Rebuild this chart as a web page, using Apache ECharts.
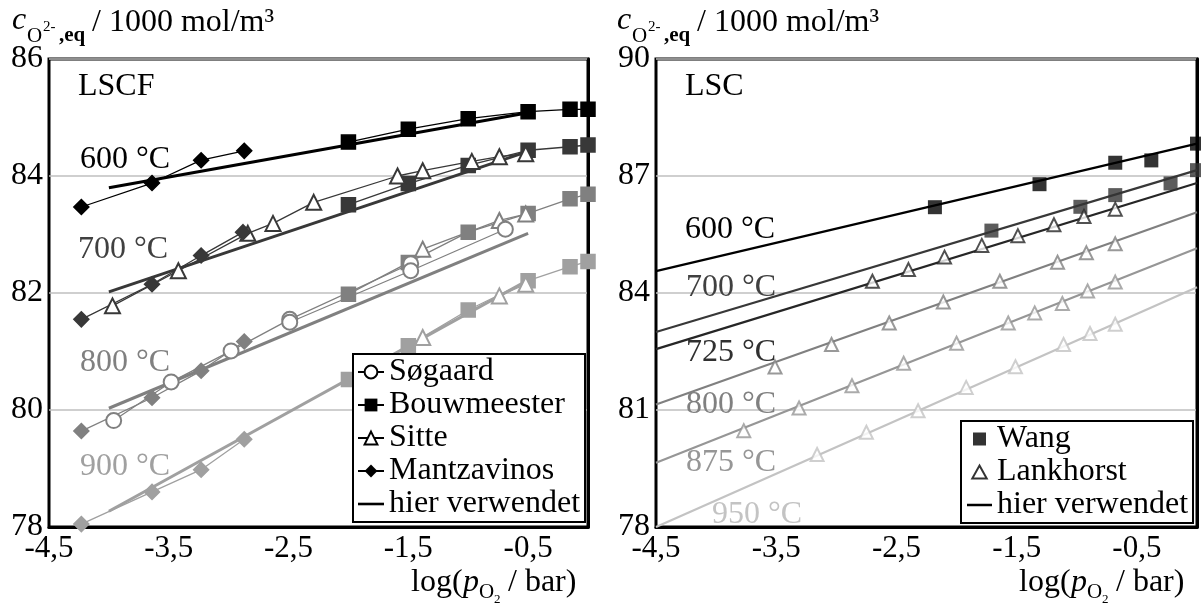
<!DOCTYPE html>
<html><head><meta charset="utf-8">
<script src="https://cdn.jsdelivr.net/npm/echarts@6/dist/echarts.min.js"></script>
<style>html,body{margin:0;padding:0;background:#fff}#c{width:1201px;height:604px}</style>
</head><body><div id="c"></div><script>
// ---------- LSCF (left) ----------
const bouw600 = [[-2,84.58],[-1.5,84.8],[-1,84.98],[-0.5,85.1],[-0.15,85.14],[0,85.14]];
const bouw700 = [[-2,83.51],[-1.5,83.87],[-1,84.18],[-0.5,84.44],[-0.15,84.5],[0,84.53]];
const bouw800 = [[-2,81.98],[-1.5,82.52],[-1,83.04],[-0.5,83.36],[-0.15,83.61],[0,83.69]];
const bouw900 = [[-2,80.52],[-1.5,81.1],[-1,81.71],[-0.5,82.21],[-0.15,82.45],[0,82.54]];
const sitte700 = [[-3.97,81.78],[-3.42,82.38],[-2.84,83.02],[-2.63,83.19],[-2.29,83.55],[-1.59,84.0],[-1.38,84.09],[-0.97,84.25],[-0.74,84.33],[-0.52,84.38]];
const sitte800 = [[-1.38,82.75],[-0.74,83.24],[-0.52,83.35]];
const sitte900 = [[-1.38,81.24],[-0.74,81.95],[-0.52,82.15]];
const mantz600 = [[-4.23,83.47],[-3.64,83.88],[-3.23,84.27],[-2.87,84.43]];
const mantz700 = [[-4.23,81.55],[-3.64,82.15],[-3.23,82.64],[-2.88,83.04]];
const mantz800 = [[-4.23,79.64],[-3.64,80.21],[-3.23,80.67],[-2.87,81.17]];
const mantz900 = [[-4.23,78.05],[-3.64,78.6],[-3.23,78.98],[-2.87,79.5]];
const sogA = [[-3.96,79.82],[-3.48,80.48],[-2.98,81.01],[-2.49,81.55],[-1.48,82.5]];
const sogB = [[-2.49,81.5],[-1.48,82.38],[-0.69,83.09]];
const fitLSCF600 = [[-4,83.8],[-0.5,85.08]];
const fitLSCF700 = [[-4,82.02],[-0.5,84.42]];
const fitLSCF800 = [[-4,80.03],[-0.5,83.02]];
const fitLSCF900 = [[-4,78.27],[-0.5,82.22]];
// ---------- LSC (right) ----------
const wang600 = [[-2.18,86.2],[-1.31,86.79],[-0.68,87.34],[-0.38,87.4],[0,87.83]];
const wang700 = [[-1.71,85.6],[-0.97,86.21],[-0.68,86.51],[-0.22,86.81],[0,87.15]];
const lank725 = [[-2.7,84.3],[-2.4,84.6],[-2.1,84.92],[-1.79,85.22],[-1.49,85.47],[-1.19,85.75],[-0.94,85.96],[-0.68,86.15]];
const lank800 = [[-3.51,82.1],[-3.04,82.68],[-2.56,83.23],[-2.11,83.77],[-1.64,84.3],[-1.16,84.79],[-0.92,85.03],[-0.68,85.26]];
const lank875 = [[-3.77,80.47],[-3.31,81.05],[-2.87,81.62],[-2.44,82.2],[-2.0,82.71],[-1.57,83.23],[-1.35,83.49],[-1.12,83.73],[-0.91,84.05],[-0.68,84.28]];
const lank950 = [[-3.16,79.86],[-2.75,80.43],[-2.32,80.98],[-1.92,81.58],[-1.51,82.11],[-1.11,82.68],[-0.89,82.96],[-0.68,83.2]];
const fitLSC600 = [[-4.5,84.56],[0,87.83]];
const fitLSC700 = [[-4.5,83.0],[0,87.15]];
const fitLSC725 = [[-4.5,82.56],[0,86.82]];
const fitLSC800 = [[-4.5,81.14],[0,86.07]];
const fitLSC875 = [[-4.5,79.65],[0,85.15]];
const fitLSC950 = [[-4.5,78.0],[0,84.15]];
// ---------- texts ----------
const legendLSCF = ['Søgaard','Bouwmeester','Sitte','Mantzavinos','hier verwendet'];
const legendLSC = ['Wang','Lankhorst','hier verwendet'];
const panelNames = ['LSCF','LSC'];
const tempsLSCF = ['600 °C','700 °C','800 °C','900 °C'];
const tempsLSC = ['600 °C','700 °C','725 °C','800 °C','875 °C','950 °C'];

const F = 'Liberation Serif';
const C = {600:'#000000',700:'#383838',725:'#262626',800:'#808080',875:'#969696',900:'#a0a0a0',950:'#c3c3c3'};

function dl(name, data, color, symbol, size, ax) {
  return {name, type:'line', data, xAxisIndex:ax, yAxisIndex:ax, symbol, symbolSize:size, showSymbol:true,
    lineStyle:{color, width:1.3}, itemStyle:{color, borderColor:color, borderWidth:1.5}, z:3, animation:false};
}
function fit(name, data, color, w, ax) {
  return {name, type:'line', data, xAxisIndex:ax, yAxisIndex:ax, symbol:'none', lineStyle:{color, width:w}, itemStyle:{color}, z:2, animation:false};
}
function sc(name, data, color, symbol, size) {
  return {name, type:'scatter', data, xAxisIndex:1, yAxisIndex:1, symbol, symbolSize:size,
    itemStyle:{color, borderColor:color, borderWidth:symbol.indexOf('empty')===0?2:0}, z:4, animation:false};
}

const series = [
  fit('f600', fitLSCF600, C[600], 3, 0), fit('f700', fitLSCF700, C[700], 3, 0),
  fit('f800', fitLSCF800, C[800], 3, 0), fit('f900', fitLSCF900, C[900], 3, 0),
  dl('b600', bouw600, C[600], 'rect', 14, 0), dl('b700', bouw700, C[700], 'rect', 14, 0),
  dl('b800', bouw800, C[800], 'rect', 14, 0), dl('b900', bouw900, C[900], 'rect', 14, 0),
  dl('s700', sitte700, C[700], 'emptyTriangle', 15, 0), dl('s800', sitte800, C[800], 'emptyTriangle', 15, 0),
  dl('s900', sitte900, C[900], 'emptyTriangle', 15, 0),
  dl('m600', mantz600, C[600], 'diamond', 15, 0), dl('m700', mantz700, C[700], 'diamond', 15, 0),
  dl('m800', mantz800, C[800], 'diamond', 15, 0), dl('m900', mantz900, C[900], 'diamond', 15, 0),
  dl('gA', sogA, C[800], 'emptyCircle', 15, 0), dl('gB', sogB, C[800], 'emptyCircle', 15, 0),
  fit('r600', fitLSC600, C[600], 2.2, 1), fit('r700', fitLSC700, C[700], 2.2, 1),
  fit('r725', fitLSC725, C[725], 2.2, 1), fit('r800', fitLSC800, C[800], 2.2, 1),
  fit('r875', fitLSC875, C[875], 2.2, 1), fit('r950', fitLSC950, C[950], 2.2, 1),
  sc('w600', wang600, C[600], 'rect', 14), sc('w700', wang700, '#333333', 'rect', 14),
  sc('l725', lank725, C[725], 'emptyTriangle', 13), sc('l800', lank800, C[800], 'emptyTriangle', 13),
  sc('l875', lank875, C[875], 'emptyTriangle', 13), sc('l950', lank950, C[950], 'emptyTriangle', 13),
  // legend entries
  {name:legendLSCF[0], type:'line', data:[], symbol:'emptyCircle', lineStyle:{color:'#000',width:1.5}, itemStyle:{color:'#000'}, xAxisIndex:0, yAxisIndex:0},
  {name:legendLSCF[1], type:'line', data:[], symbol:'rect', lineStyle:{color:'#000',width:1.5}, itemStyle:{color:'#000'}, xAxisIndex:0, yAxisIndex:0},
  {name:legendLSCF[2], type:'line', data:[], symbol:'emptyTriangle', lineStyle:{color:'#000',width:1.5}, itemStyle:{color:'#000'}, xAxisIndex:0, yAxisIndex:0},
  {name:legendLSCF[3], type:'line', data:[], symbol:'diamond', lineStyle:{color:'#000',width:1.5}, itemStyle:{color:'#000'}, xAxisIndex:0, yAxisIndex:0},
  {name:legendLSCF[4], type:'line', data:[], symbol:'none', lineStyle:{color:'#000',width:2}, itemStyle:{color:'#000'}, xAxisIndex:0, yAxisIndex:0},
  {name:legendLSC[0], type:'scatter', data:[], symbol:'rect', itemStyle:{color:'#000', borderWidth:0}, xAxisIndex:1, yAxisIndex:1},
  {name:legendLSC[1], type:'scatter', data:[], symbol:'emptyTriangle', itemStyle:{color:'#000'}, xAxisIndex:1, yAxisIndex:1}
];

const lineIcon = 'path://M0,0h30v3h-30z';
const xLabel = v => (Math.round(v*2) % 2 !== 0) ? String(v).replace('.', ',') : '';
function xAx(i) {
  return {type:'value', gridIndex:i, min:-4.5, max:0, interval:0.5,
    axisLine:{show:true, lineStyle:{color:'#000', width:3}}, axisTick:{show:false}, splitLine:{show:false},
    axisLabel:{formatter:xLabel, fontFamily:F, fontSize:31, color:'#000', margin:6, showMaxLabel:false}};
}
function yAx(i, min, max, iv) {
  return {type:'value', gridIndex:i, min, max, interval:iv,
    axisLine:{show:true, lineStyle:{color:'#000', width:3}}, axisTick:{show:false},
    splitLine:{show:true, lineStyle:{color:'#bfbfbf', width:1.5}},
    axisLabel:{fontFamily:F, fontSize:32, color:'#000', margin:6}};
}

function txt(text, x, baseline, size, color, style, weight) {
  return {type:'text', x, y: baseline - 0.3375*size, z:100, silent:true,
    style:{text, fill:color||'#000', font:(style||'normal')+' '+(weight||'normal')+' '+size+'px "'+F+'"', verticalAlign:'middle', align:'left'}};
}
const graphics = [];
[0, 605].forEach(o => {
  graphics.push(txt('c', 12+o, 31, 32, '#000', 'italic'));
  graphics.push(txt('O', 27+o, 44, 21));
  graphics.push(txt('2-', 43+o, 32, 15));
  graphics.push(txt(',eq', 59+o, 43, 21, '#000', 'normal', 'bold'));
  graphics.push(txt('/ 1000 mol/m³', 92+o, 33, 32));
});
[0, 608].forEach(o => {
  graphics.push(txt('log(', 411+o, 593, 32));
  graphics.push(txt('p', 463+o, 593, 32, '#000', 'italic'));
  graphics.push(txt('O', 479+o, 600, 21));
  graphics.push(txt('2', 494+o, 604, 13));
  graphics.push(txt(' / bar)', 500+o, 593, 32));
});
graphics.push(txt(panelNames[0], 78, 97, 32));
graphics.push(txt(panelNames[1], 685, 97, 32));
graphics.push(txt(tempsLSCF[0], 80, 170, 32, C[600]));
graphics.push(txt(tempsLSCF[1], 78, 260, 32, '#404040'));
graphics.push(txt(tempsLSCF[2], 80, 373, 32, C[800]));
graphics.push(txt(tempsLSCF[3], 80, 477, 32, C[900]));
graphics.push(txt(tempsLSC[0], 685, 240, 32, C[600]));
graphics.push(txt(tempsLSC[1], 686, 298, 32, '#404040'));
graphics.push(txt(tempsLSC[2], 686, 363, 32, '#303030'));
graphics.push(txt(tempsLSC[3], 686, 415, 32, C[800]));
graphics.push(txt(tempsLSC[4], 686, 473, 32, C[875]));
graphics.push(txt(tempsLSC[5], 712, 525, 32, C[950]));

const legendText = {fontFamily:F, fontSize:32, color:'#000'};
const option = {
  backgroundColor:'#fff',
  animation:false,
  grid:[
    {left:49, top:59, width:539, height:468, show:true, borderColor:'#000', borderWidth:3},
    {left:656, top:59, width:541, height:468, show:true, borderColor:'#000', borderWidth:3}
  ],
  xAxis:[xAx(0), xAx(1)],
  yAxis:[yAx(0,78,86,2), yAx(1,78,90,3)],
  legend:[
    {left:353, top:354, orient:'vertical', selectedMode:false, itemWidth:26, itemHeight:16, itemGap:1,
     padding:[2,5,2,4], backgroundColor:'#fff', borderColor:'#000', borderWidth:2, textStyle:legendText,
     data:[legendLSCF[0], legendLSCF[1], legendLSCF[2], legendLSCF[3], {name:legendLSCF[4], icon:lineIcon, itemStyle:{borderWidth:0}}]},
    {left:961, top:421, orient:'vertical', selectedMode:false, itemWidth:25, itemHeight:13, itemGap:1,
     padding:[2,5,2,6], backgroundColor:'#fff', borderColor:'#000', borderWidth:2, textStyle:legendText,
     data:[{name:legendLSC[0], icon:'path://M0,0h10v10h-10z', itemStyle:{borderWidth:0}},
           {name:legendLSC[1], icon:'path://M5,0L10,9H0Z', itemStyle:{color:'#fff', borderColor:'#000', borderWidth:2}},
           {name:legendLSC[2], icon:lineIcon, itemStyle:{borderWidth:0}}]}
  ],
  series,
  graphic: graphics
};
const chart = echarts.init(document.getElementById('c'), null, {renderer:'canvas'});
chart.setOption(option);
</script></body></html>
